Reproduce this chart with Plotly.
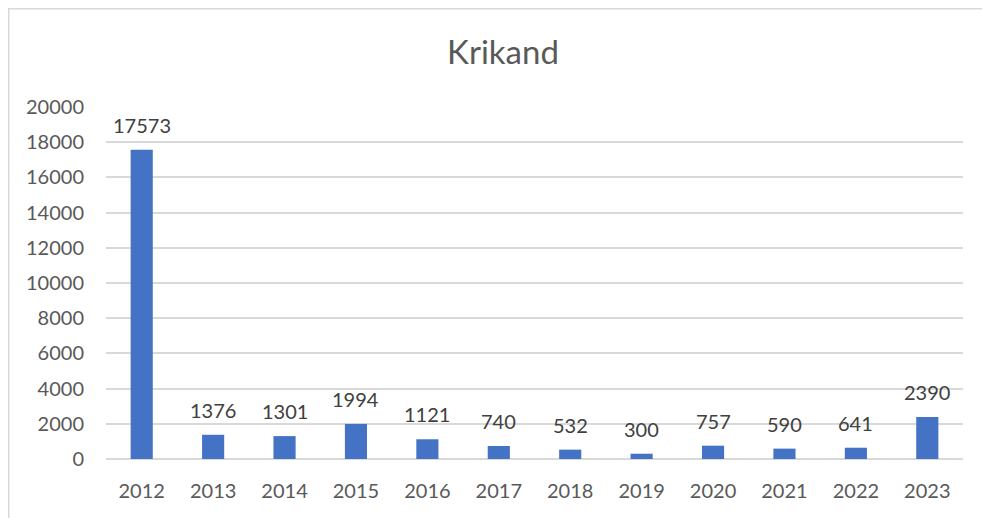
import plotly.graph_objects as go

years = ["2012", "2013", "2014", "2015", "2016", "2017", "2018", "2019", "2020", "2021", "2022", "2023"]
values = [17573, 1376, 1301, 1994, 1121, 740, 532, 300, 757, 590, 641, 2390]
y_ticks = [0, 2000, 4000, 6000, 8000, 10000, 12000, 14000, 16000, 18000, 20000]

FONT = "Lato, 'Open Sans', sans-serif"

fig = go.Figure(go.Bar(
    x=years, y=values,
    marker=dict(color="#4472C4", line=dict(width=0)),
))

# value labels (category axis: position by category index)
for i, v in enumerate(values):
    fig.add_annotation(x=i, y=v, xref="x", yref="y", text=str(v), showarrow=False,
                       yanchor="middle", yshift=25,
                       font=dict(family=FONT, size=20, color="#404040"))

# the page body adds an 8px offset, so figure coords = reference coords - 8
OFF = 8
W, H = 990, 518
L = 106 - OFF
T = 107 - OFF
R = W - (963 - OFF)
B = H - (459 - OFF)
pw, ph = W - L - R, H - T - B

def px_x(p):
    return (p - L) / pw

def px_y(p):
    return (H - B - p) / ph

fig.update_layout(
    width=W, height=H,
    margin=dict(l=L, r=R, t=T, b=B),
    paper_bgcolor="white", plot_bgcolor="white",
    bargap=0.69,
    showlegend=False,
    title=dict(text="Krikand", x=0.5, xanchor="center", y=1 - (52 - OFF) / H, yanchor="middle",
               font=dict(family=FONT, size=33, color="#595959")),
    xaxis=dict(type="category", range=[-0.5, len(years) - 0.5], showgrid=False, showline=False,
               ticks="", ticklabelstandoff=18,
               tickfont=dict(family=FONT, size=20, color="#595959")),
    yaxis=dict(range=[0, 20000], tickvals=y_ticks, ticktext=[str(v) for v in y_ticks],
               showgrid=True, gridcolor="#d9d9d9", gridwidth=1.5, zeroline=True,
               zerolinecolor="#d9d9d9", zerolinewidth=1.5, showline=False, ticks="",
               ticklen=0, ticklabelstandoff=21,
               tickfont=dict(family=FONT, size=20, color="#595959")),
    shapes=[dict(type="rect", xref="paper", yref="paper",
                 x0=px_x(0.75), x1=px_x(1010), y0=px_y(540), y1=px_y(0.75),
                 line=dict(color="#d9d9d9", width=1.5), fillcolor="rgba(0,0,0,0)", layer="below")],
)

fig.write_html("out.html")
